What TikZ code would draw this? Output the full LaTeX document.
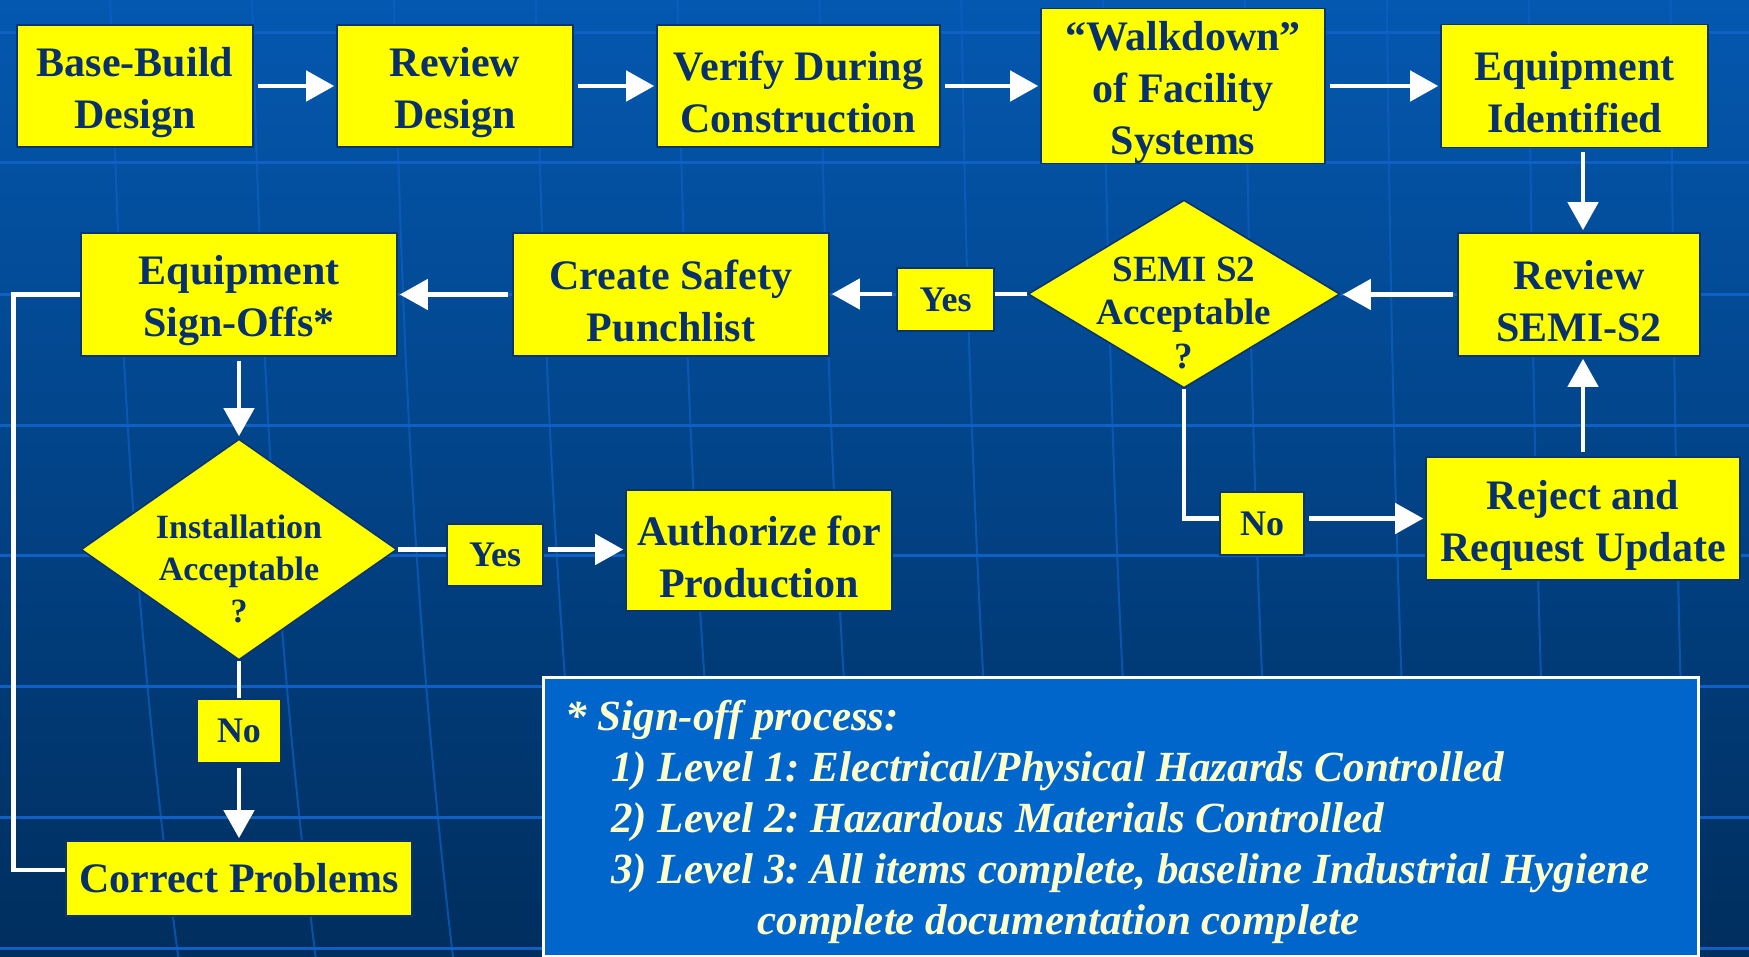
\documentclass[tikz,border=0pt]{standalone}
\usepackage{fontspec}
\setmainfont{Liberation Serif}
\usetikzlibrary{shapes.geometric,arrows.meta,calc}
\definecolor{bgtop}{RGB}{4,88,176}
\definecolor{bgmid}{RGB}{0,68,138}
\definecolor{bgbot}{RGB}{0,46,94}
\definecolor{gridc}{RGB}{14,96,196}
\definecolor{boxfill}{RGB}{255,255,0}
\definecolor{boxtext}{RGB}{8,48,108}
\definecolor{boxedge}{RGB}{10,52,112}
\definecolor{notefill}{RGB}{0,102,204}
\definecolor{notetext}{RGB}{255,255,204}
\newcommand\boxstrut{\rule{0pt}{21pt}}
\begin{document}
\begin{tikzpicture}[x=0.5pt,y=-0.5pt,
  procbox/.style={draw=boxedge, line width=0.8pt, fill=boxfill, text=boxtext,
    font=\fontsize{21}{26}\selectfont\bfseries, align=center, inner sep=0pt},
  tagbox/.style={draw=boxedge, line width=0.8pt, fill=boxfill, text=boxtext,
    font=\fontsize{18}{22}\selectfont\bfseries, inner sep=0pt},
  decision/.style={diamond, draw=boxedge, line width=0.8pt, fill=boxfill, inner sep=0pt},
  dtext/.style={text=boxtext, align=center, inner sep=0pt},
  flow/.style={draw=white, line width=2.3pt, shorten <=2pt, shorten >=1pt,
    -{Triangle[length=14pt,width=15pt]}},
  link/.style={draw=white, line width=2.3pt},
  hgrid/.style={draw=gridc, line width=1.5pt},
  vgrid/.style={draw=gridc, line width=1pt, opacity=0.7},
]
\useasboundingbox (0,0) rectangle (1749,957);
\shade[top color=bgtop, middle color=bgmid, bottom color=bgbot] (0,0) rectangle (1749,957);
\foreach \yy in {33,163,294,425,555,686,817,948}
  \draw[hgrid] (0,\yy) -- (1749,\yy);
\foreach \xx in {123,264,405,546,687,828,969,1110,1251,1392,1533,1674}{
  \pgfmathsetmacro{\ss}{0.09-0.07*\xx/1749}
  \draw[vgrid] ({\xx-\ss*150},0) .. controls ({\xx-\ss*60},270) and ({\xx+\ss*80},600) .. ({\xx+\ss*650},957);
}

% top row
\node[procbox, minimum width=118pt, minimum height=61pt] (base) at (135,86) {\boxstrut Base-Build\\Design};
\node[procbox, minimum width=118pt, minimum height=61pt] (revd) at (455,86) {\boxstrut Review\\Design};
\node[procbox, minimum width=141.5pt, minimum height=61pt] (verify) at (798.5,86) {\boxstrut Verify During\\Construction};
\node[procbox, minimum width=142pt, minimum height=77.5pt] (walk) at (1183,86) {\boxstrut ``Walkdown''\\of Facility\\Systems};
\node[procbox, minimum width=133.5pt, minimum height=61.5pt] (eqid) at (1574.5,86) {\boxstrut Equipment\\Identified};

% second row
\node[procbox, minimum width=121pt, minimum height=61.5pt] (revs2) at (1579,294.5) {\boxstrut Review\\SEMI-S2};
\node[decision, minimum width=156pt, minimum height=94pt] (semi) at (1184,294) {};
\node[dtext, font=\fontsize{18.5}{21.75}\selectfont\bfseries] (semitxt) at (1184,313) {SEMI S2\\Acceptable\\?};
\node[tagbox, minimum width=48.5pt, minimum height=31.5pt] (yes1) at (945.5,299.5) {Yes};
\node[procbox, minimum width=158pt, minimum height=61.5pt] (punch) at (671,294.5) {\boxstrut Create Safety\\Punchlist};
\node[procbox, minimum width=158pt, minimum height=61.5pt] (signoff) at (239,294.5) {\boxstrut Equipment\\Sign-Offs*};

% lower part
\node[decision, minimum width=158pt, minimum height=110.5pt] (inst) at (239,549.5) {};
\node[dtext, font=\fontsize{17}{21}\selectfont\bfseries] (insttxt) at (239,569) {Installation\\Acceptable\\?};
\node[tagbox, minimum width=48pt, minimum height=31pt] (yes2) at (495,555) {Yes};
\node[procbox, minimum width=133pt, minimum height=60.5pt] (auth) at (759,550.5) {\boxstrut Authorize for\\Production};
\node[tagbox, minimum width=42pt, minimum height=32pt] (no1) at (239,731) {No};
\node[procbox, minimum width=173pt, minimum height=37.5pt] (correct) at (239,878.5) {Correct Problems};
\node[tagbox, minimum width=42pt, minimum height=31.5pt] (no2) at (1262,523.5) {No};
\node[procbox, minimum width=157pt, minimum height=61.5pt] (reject) at (1583,518.5) {\boxstrut Reject and\\Request Update};

% note
\node[draw=white, line width=1.5pt, fill=notefill, anchor=north west,
  minimum width=577.5pt, minimum height=139.5pt, inner sep=0pt] (note) at (542,676) {};
\node[text=notetext, anchor=north west, align=left, inner sep=0pt,
  font=\fontsize{21.5}{25.5}\selectfont\bfseries\itshape\frenchspacing] (notetxt) at (565,700)
  {* Sign-off process:\\
   \hspace*{23pt}1) Level 1: Electrical/Physical Hazards Controlled\\
   \hspace*{23pt}2) Level 2: Hazardous Materials Controlled\\
   \hspace*{23pt}3) Level 3: All items complete, baseline Industrial Hygiene\\
   \hspace*{96pt}complete documentation complete};

% connectors
\draw[flow] (base) -- (revd);
\draw[flow] (revd) -- (verify);
\draw[flow] (verify) -- (walk);
\draw[flow] (walk) -- (eqid);
\draw[flow] (eqid.south -| reject.north) -- (revs2.north -| reject.north);
\draw[flow] (revs2.west) -- (revs2.west -| semi.east);
\draw[link] (semi.west) -- (semi.west -| yes1.east);
\draw[flow] (yes1.west |- semi.west) -- (punch.east |- semi.west);
\draw[flow] (punch) -- (signoff);
\draw[flow] (signoff) -- (inst);
\draw[link] (inst.east) -- (inst.east -| yes2.west);
\draw[flow] (yes2.east |- inst.east) -- (auth.west |- inst.east);
\draw[link] (inst.south) -- (no1.north);
\draw[flow] (no1.south) -- (correct.north);
\draw[link] ([yshift=4.25pt]correct.west) -| ($(signoff.west)+(-67,0)$) -- (signoff.west);
\draw[link] (semi.south) |- (no2.west |- reject.west);
\draw[flow] (no2.east |- reject.west) -- (reject.west);
\draw[flow] (reject.north) -- (reject.north |- revs2.south);
\end{tikzpicture}
\end{document}
